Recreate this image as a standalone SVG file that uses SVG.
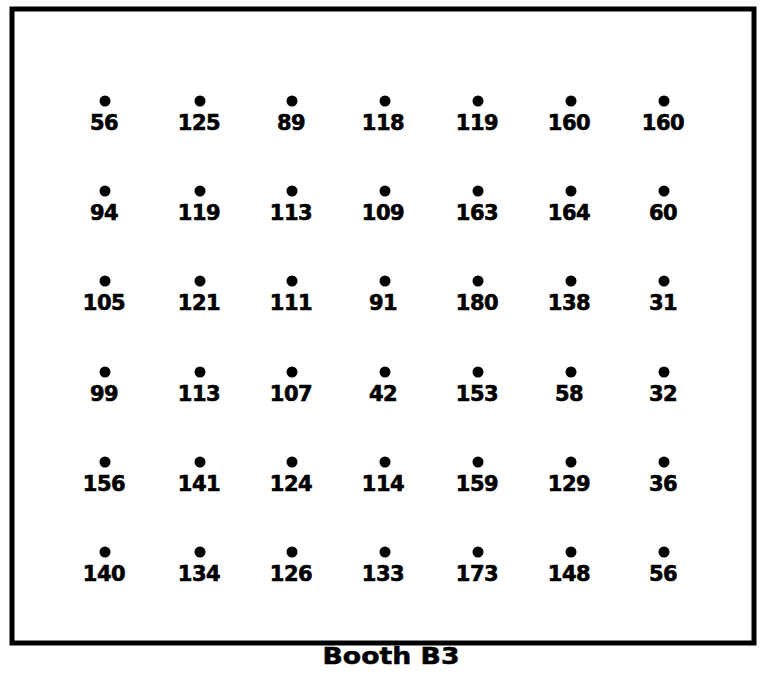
<svg xmlns="http://www.w3.org/2000/svg" width="761" height="686" viewBox="0 0 761 686">
<style>
.dot{fill:#000}
.lbl{font-family:"DejaVu Sans","Liberation Sans",sans-serif;font-weight:bold;font-size:21px;text-anchor:middle;fill:#000;stroke:#000;stroke-width:0.6;letter-spacing:-0.5px}
.cap{font-family:"DejaVu Sans","Liberation Sans",sans-serif;font-weight:bold;font-size:23px;text-anchor:middle;fill:#000;stroke:#000;stroke-width:0.5}
</style>
<rect width="761" height="686" fill="#fff"/>
<rect id="booth" x="12" y="9" width="742" height="634" fill="none" stroke="#000" stroke-width="5"/>
<g id="points">
<g id="r1">
<circle class="dot" cx="105" cy="101" r="5.5"/><text class="lbl" x="104" y="130">56</text>
<circle class="dot" cx="200" cy="101" r="5.5"/><text class="lbl" x="199" y="130">125</text>
<circle class="dot" cx="292" cy="101" r="5.5"/><text class="lbl" x="291" y="130">89</text>
<circle class="dot" cx="385" cy="101" r="5.5"/><text class="lbl" x="383" y="130">118</text>
<circle class="dot" cx="478" cy="101" r="5.5"/><text class="lbl" x="477" y="130">119</text>
<circle class="dot" cx="571" cy="101" r="5.5"/><text class="lbl" x="569" y="130">160</text>
<circle class="dot" cx="664" cy="101" r="5.5"/><text class="lbl" x="663" y="130">160</text>
</g>
<g id="r2">
<circle class="dot" cx="105" cy="191" r="5.5"/><text class="lbl" x="104" y="220">94</text>
<circle class="dot" cx="200" cy="191" r="5.5"/><text class="lbl" x="199" y="220">119</text>
<circle class="dot" cx="292" cy="191" r="5.5"/><text class="lbl" x="291" y="220">113</text>
<circle class="dot" cx="385" cy="191" r="5.5"/><text class="lbl" x="383" y="220">109</text>
<circle class="dot" cx="478" cy="191" r="5.5"/><text class="lbl" x="477" y="220">163</text>
<circle class="dot" cx="571" cy="191" r="5.5"/><text class="lbl" x="569" y="220">164</text>
<circle class="dot" cx="664" cy="191" r="5.5"/><text class="lbl" x="663" y="220">60</text>
</g>
<g id="r3">
<circle class="dot" cx="105" cy="281" r="5.5"/><text class="lbl" x="104" y="310">105</text>
<circle class="dot" cx="200" cy="281" r="5.5"/><text class="lbl" x="199" y="310">121</text>
<circle class="dot" cx="292" cy="281" r="5.5"/><text class="lbl" x="291" y="310">111</text>
<circle class="dot" cx="385" cy="281" r="5.5"/><text class="lbl" x="383" y="310">91</text>
<circle class="dot" cx="478" cy="281" r="5.5"/><text class="lbl" x="477" y="310">180</text>
<circle class="dot" cx="571" cy="281" r="5.5"/><text class="lbl" x="569" y="310">138</text>
<circle class="dot" cx="664" cy="281" r="5.5"/><text class="lbl" x="663" y="310">31</text>
</g>
<g id="r4">
<circle class="dot" cx="105" cy="372" r="5.5"/><text class="lbl" x="104" y="401">99</text>
<circle class="dot" cx="200" cy="372" r="5.5"/><text class="lbl" x="199" y="401">113</text>
<circle class="dot" cx="292" cy="372" r="5.5"/><text class="lbl" x="291" y="401">107</text>
<circle class="dot" cx="385" cy="372" r="5.5"/><text class="lbl" x="383" y="401">42</text>
<circle class="dot" cx="478" cy="372" r="5.5"/><text class="lbl" x="477" y="401">153</text>
<circle class="dot" cx="571" cy="372" r="5.5"/><text class="lbl" x="569" y="401">58</text>
<circle class="dot" cx="664" cy="372" r="5.5"/><text class="lbl" x="663" y="401">32</text>
</g>
<g id="r5">
<circle class="dot" cx="105" cy="462" r="5.5"/><text class="lbl" x="104" y="491">156</text>
<circle class="dot" cx="200" cy="462" r="5.5"/><text class="lbl" x="199" y="491">141</text>
<circle class="dot" cx="292" cy="462" r="5.5"/><text class="lbl" x="291" y="491">124</text>
<circle class="dot" cx="385" cy="462" r="5.5"/><text class="lbl" x="383" y="491">114</text>
<circle class="dot" cx="478" cy="462" r="5.5"/><text class="lbl" x="477" y="491">159</text>
<circle class="dot" cx="571" cy="462" r="5.5"/><text class="lbl" x="569" y="491">129</text>
<circle class="dot" cx="664" cy="462" r="5.5"/><text class="lbl" x="663" y="491">36</text>
</g>
<g id="r6">
<circle class="dot" cx="105" cy="552" r="5.5"/><text class="lbl" x="104" y="581">140</text>
<circle class="dot" cx="200" cy="552" r="5.5"/><text class="lbl" x="199" y="581">134</text>
<circle class="dot" cx="292" cy="552" r="5.5"/><text class="lbl" x="291" y="581">126</text>
<circle class="dot" cx="385" cy="552" r="5.5"/><text class="lbl" x="383" y="581">133</text>
<circle class="dot" cx="478" cy="552" r="5.5"/><text class="lbl" x="477" y="581">173</text>
<circle class="dot" cx="571" cy="552" r="5.5"/><text class="lbl" x="569" y="581">148</text>
<circle class="dot" cx="664" cy="552" r="5.5"/><text class="lbl" x="663" y="581">56</text>
</g>
</g>
<g id="connectors"/>
<text id="caption" class="cap" x="391" y="664" textLength="137" lengthAdjust="spacingAndGlyphs">Booth B3</text>
</svg>
